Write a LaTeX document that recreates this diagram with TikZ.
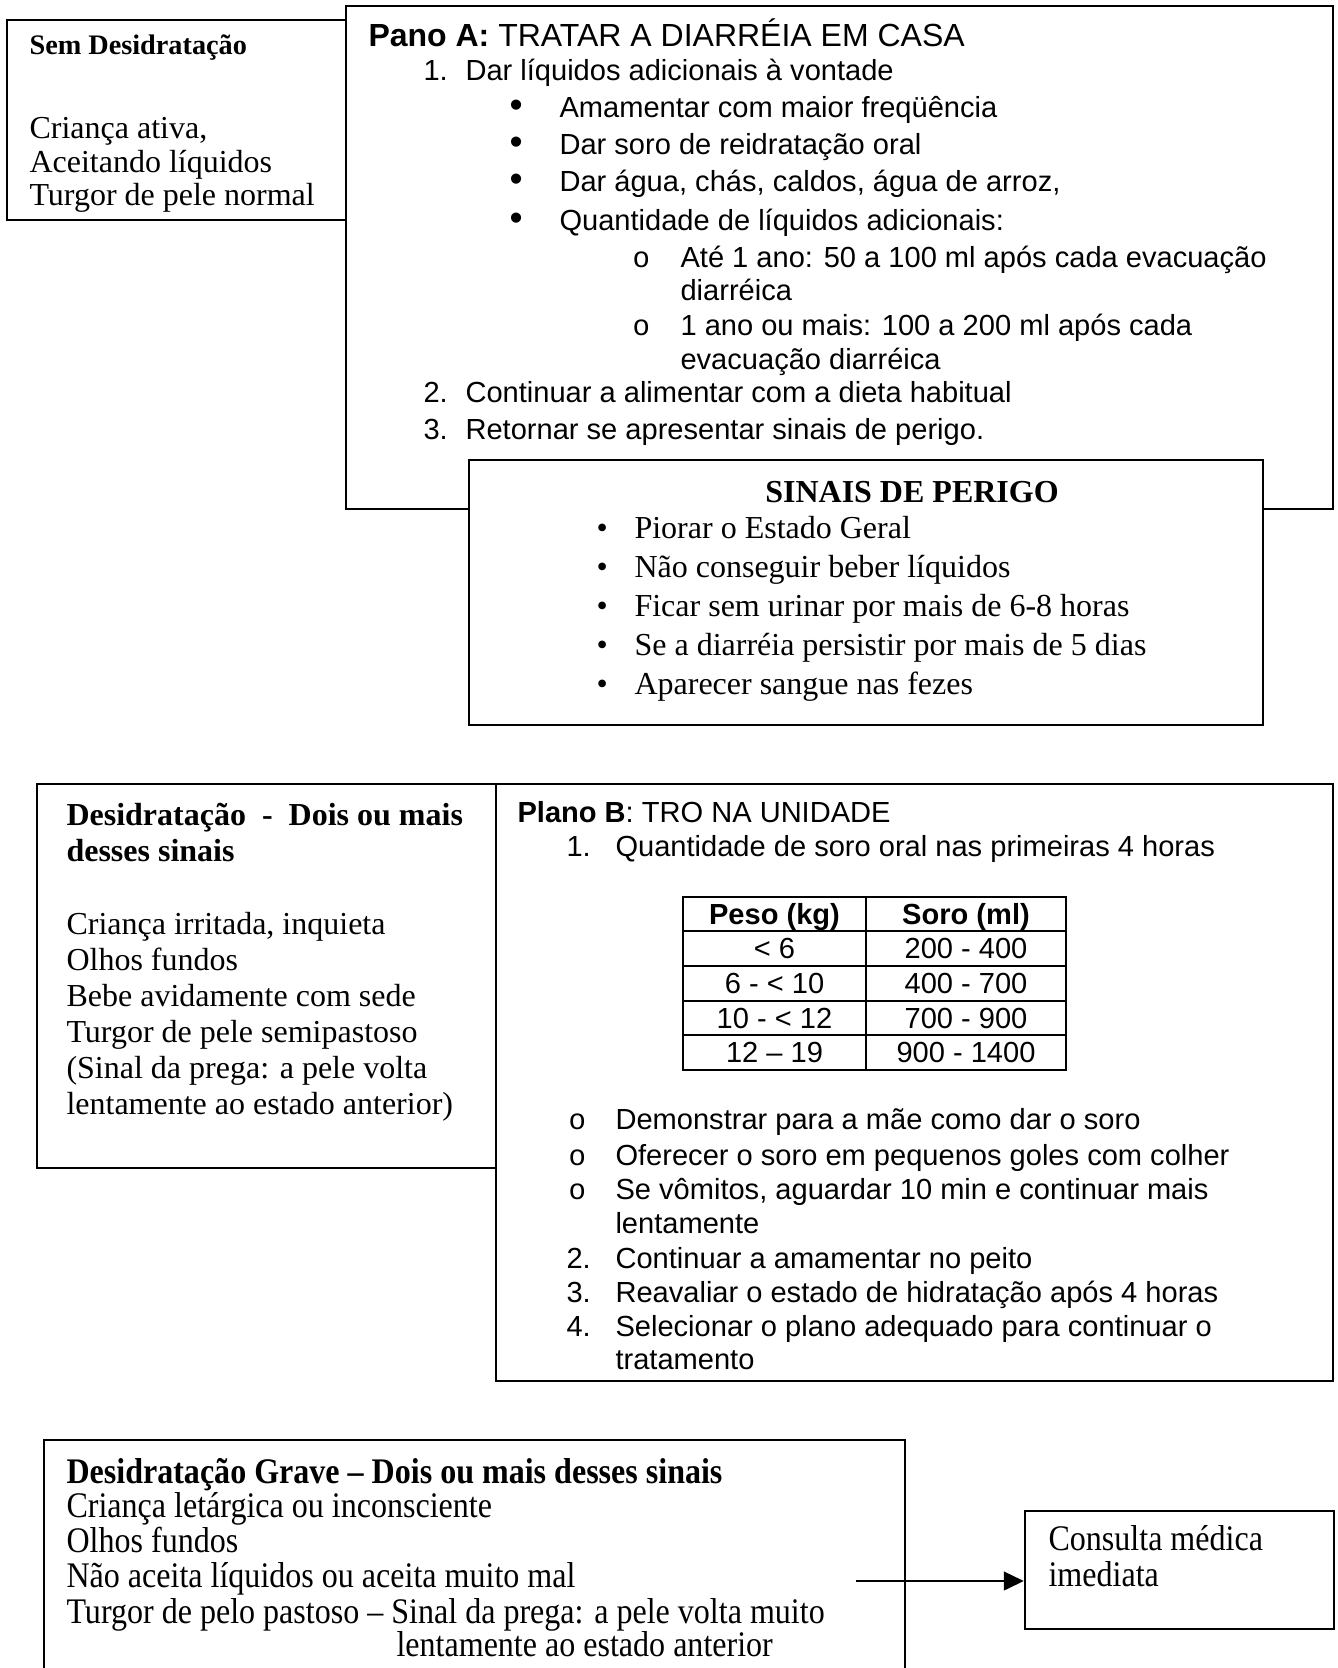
\documentclass[tikz,border=0pt]{standalone}
\usepackage{fontspec}
\setmainfont{Liberation Serif}
\newfontfamily\arialf{Liberation Sans}
\newfontfamily\courf{Liberation Mono}
\newfontfamily\tallserif[FakeStretch=0.89]{Liberation Serif}
\usetikzlibrary{fit,arrows.meta}
\begin{document}
\begin{tikzpicture}[x=0.375pt,y=-0.375pt,
  boxsty/.style={draw, line width=0.9pt, inner sep=0pt, fill=white},
  txt/.style={anchor=base west, inner sep=0pt, yshift=-1pt, font=\fontsize{12}{14}\selectfont},
  txtb/.style={txt, font=\fontsize{12}{14}\selectfont\bfseries},
  tall/.style={txt, font=\tallserif\fontsize{13.5}{15}\selectfont},
  tallb/.style={txt, font=\tallserif\fontsize{13.5}{15}\selectfont\bfseries},
  sans/.style={anchor=base west, inner sep=0pt, yshift=-1pt, font=\arialf\fontsize{10.9}{13}\selectfont},
  bul/.style={sans, font=\arialf\fontsize{14}{14}\selectfont},
  sansc/.style={anchor=base, inner sep=0pt, font=\arialf\fontsize{10.9}{13}\selectfont},
  subo/.style={anchor=base west, inner sep=0pt, yshift=-1pt, font=\courf\fontsize{10.9}{13}\selectfont},
  arr/.style={line width=0.9pt, -{Triangle[length=7.5pt,width=7pt]}}
]
\useasboundingbox (0,0) rectangle (1337,1668);
\clip (0,0) rectangle (1337,1668);

% ---------- Pano A ----------
\node[boxsty, fit={(346,6) (1333,509)}] (panoA) {};
\node[boxsty, fit={(7,20) (346,220)}] (semdes) {};

\node[txt, yshift=0pt, font=\fontsize{10.6}{13}\selectfont\bfseries] (h1) at (29,52) {Sem Desidratação};
\node[txt, yshift=-1.5pt] (s1a) at (29,132) {Criança ativa,};
\node[txt, yshift=-1.5pt] (s1b) at (29,166) {Aceitando líquidos};
\node[txt, yshift=-1.5pt] (s1c) at (29,199) {Turgor de pele normal};

\node[sans, font=\arialf\fontsize{12}{14}\selectfont] (ha) at (368,44) {\textbf{Pano A:} TRATAR A DIARRÉIA EM CASA};
\node[sans] (a1n) at (423,78) {1.};
\node[sans] (a1t) at (465,78) {Dar líquidos adicionais à vontade};
\node[bul] (b1) at (509,115) {•};
\node[sans] (b1t) at (559,115) {Amamentar com maior freqüência};
\node[bul] (b2) at (509,152) {•};
\node[sans] (b2t) at (559,152) {Dar soro de reidratação oral};
\node[bul] (b3) at (509,189) {•};
\node[sans] (b3t) at (559,189) {Dar água, chás, caldos, água de arroz,};
\node[bul] (b4) at (509,228) {•};
\node[sans] (b4t) at (559,228) {Quantidade de líquidos adicionais:};
\node[subo] (o1) at (632,265) {o};
\node[sans] (o1t) at (680,265) {Até 1 ano: 50 a 100 ml após cada evacuação};
\node[sans] (o1u) at (680,298) {diarréica};
\node[subo] (o2) at (632,333) {o};
\node[sans] (o2t) at (680,333) {1 ano ou mais: 100 a 200 ml após cada};
\node[sans] (o2u) at (680,367) {evacuação diarréica};
\node[sans] (a2n) at (423,400) {2.};
\node[sans] (a2t) at (465,400) {Continuar a alimentar com a dieta habitual};
\node[sans] (a3n) at (423,437) {3.};
\node[sans] (a3t) at (465,437) {Retornar se apresentar sinais de perigo.};

% ---------- Sinais de perigo ----------
\node[boxsty, fit={(469,460) (1263,725)}] (sinais) {};
\node[txtb, anchor=base] (hs) at (912,500) {SINAIS DE PERIGO};
\node[txt] (p1) at (596,536) {\large •};
\node[txt] (p1t) at (634,536) {Piorar o Estado Geral};
\node[txt] (p2) at (596,575) {\large •};
\node[txt] (p2t) at (634,575) {Não conseguir beber líquidos};
\node[txt] (p3) at (596,614) {\large •};
\node[txt] (p3t) at (634,614) {Ficar sem urinar por mais de 6-8 horas};
\node[txt] (p4) at (596,653) {\large •};
\node[txt] (p4t) at (634,653) {Se a diarréia persistir por mais de 5 dias};
\node[txt] (p5) at (596,692) {\large •};
\node[txt] (p5t) at (634,692) {Aparecer sangue nas fezes};

% ---------- Desidratacao / Plano B ----------
\node[boxsty, fit={(37,784) (496,1168)}] (desid) {};
\node[boxsty, fit={(496,784) (1333,1381)}] (planoB) {};

\node[txtb] (h3a) at (66,823) {Desidratação \ - \ Dois ou mais};
\node[txtb] (h3b) at (66,859) {desses sinais};
\node[txt] (d1) at (66,932) {Criança irritada, inquieta};
\node[txt] (d2) at (66,968) {Olhos fundos};
\node[txt] (d3) at (66,1004) {Bebe avidamente com sede};
\node[txt] (d4) at (66,1040) {Turgor de pele semipastoso};
\node[txt] (d5) at (66,1076) {(Sinal da prega: a pele volta};
\node[txt] (d6) at (66,1112) {lentamente ao estado anterior)};

\node[sans] (hb) at (517,820) {\textbf{Plano B}: TRO NA UNIDADE};
\node[sans] (q1n) at (566,854) {1.};
\node[sans] (q1t) at (615,854) {Quantidade de soro oral nas primeiras 4 horas};

% table
\node[draw, line width=0.9pt, inner sep=0pt, fit={(683,897) (1066,1070)}] (tbl) {};
\draw[line width=0.9pt] (866,897) -- (866,1070);
\foreach \yy in {931,966,1001,1035} \draw[line width=0.9pt] (683,\yy) -- (1066,\yy);
\node[sansc, font=\arialf\fontsize{10.9}{13}\selectfont\bfseries] (c11) at (774.5,924) {Peso (kg)};
\node[sansc, font=\arialf\fontsize{10.9}{13}\selectfont\bfseries] (c12) at (966,924) {Soro (ml)};
\node[sansc] (c21) at (774.5,958.5) {< 6};
\node[sansc] (c22) at (966,958.5) {200 - 400};
\node[sansc] (c31) at (774.5,993.5) {6 - < 10};
\node[sansc] (c32) at (966,993.5) {400 - 700};
\node[sansc] (c41) at (774.5,1028) {10 - < 12};
\node[sansc] (c42) at (966,1028) {700 - 900};
\node[sansc] (c51) at (774.5,1062.5) {12 – 19};
\node[sansc] (c52) at (966,1062.5) {900 - 1400};

\node[subo] (r1) at (568,1127) {o};
\node[sans] (r1t) at (615,1127) {Demonstrar para a mãe como dar o soro};
\node[subo] (r2) at (568,1163) {o};
\node[sans] (r2t) at (615,1163) {Oferecer o soro em pequenos goles com colher};
\node[subo] (r3) at (568,1197) {o};
\node[sans] (r3t) at (615,1197) {Se vômitos, aguardar 10 min e continuar mais};
\node[sans] (r3u) at (615,1231) {lentamente};
\node[sans] (q2n) at (566,1266) {2.};
\node[sans] (q2t) at (615,1266) {Continuar a amamentar no peito};
\node[sans] (q3n) at (566,1300) {3.};
\node[sans] (q3t) at (615,1300) {Reavaliar o estado de hidratação após 4 horas};
\node[sans] (q4n) at (566,1334) {4.};
\node[sans] (q4t) at (615,1334) {Selecionar o plano adequado para continuar o};
\node[sans] (q4u) at (615,1367) {tratamento};

% ---------- Desidratacao grave ----------
\node[boxsty, fit={(44,1440) (905,1720)}] (grave) {};
\node[tallb] (g0) at (66,1481) {Desidratação Grave – Dois ou mais desses sinais};
\node[tall] (g1) at (66,1515) {Criança letárgica ou inconsciente};
\node[tall] (g2) at (66,1550) {Olhos fundos};
\node[tall] (g3) at (66,1585) {Não aceita líquidos ou aceita muito mal};
\node[tall] (g4) at (66,1621) {Turgor de pelo pastoso – Sinal da prega: a pele volta muito};
\node[tall] (g5) at (396,1654) {lentamente ao estado anterior};

\node[boxsty, fit={(1025,1511) (1334,1629)}] (consulta) {};
\node[tall] (k1) at (1048,1548) {Consulta médica};
\node[tall] (k2) at (1048,1584) {imediata};

\coordinate (astart) at (856,1581);
\draw[arr] (astart) -- (astart -| consulta.west);
\end{tikzpicture}
\end{document}
